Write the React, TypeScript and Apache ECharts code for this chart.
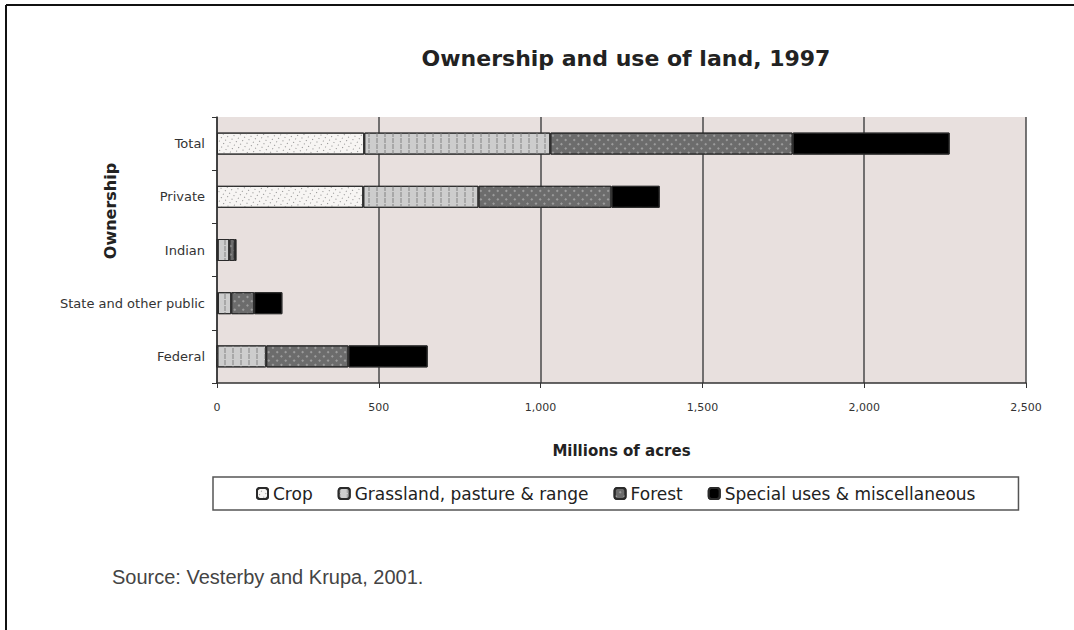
import React, { useEffect, useRef } from "react";
import * as echarts from "echarts";

// Ownership categories, bottom to top on the axis
const ownership = ["Federal", "State and other public", "Indian", "Private", "Total"];

// Millions of acres by land use, in the same order as `ownership`
const crop = [1, 3, 2, 452, 455];
const grassland = [151, 41, 36, 356, 575];
const forest = [254, 71, 17, 411, 749];
const special = [245, 87, 5, 149, 485];

const xTicks = [0, 500, 1000, 1500, 2000, 2500];

const seriesNames = [
  "Crop",
  "Grassland, pasture & range",
  "Forest",
  "Special uses & miscellaneous",
];

export default function App() {
  const ref = useRef<HTMLDivElement>(null);

  useEffect(() => {
    if (!ref.current) return;
    const chart = echarts.init(ref.current, undefined, { renderer: "svg" });

    const border = { borderColor: "#2a2a2a", borderWidth: 1 };

    chart.setOption({
      animation: false,
      backgroundColor: "#ffffff",
      aria: { enabled: true, decal: { show: true } },
      title: {
        text: "Ownership and use of land, 1997",
        left: 621,
        top: 42,
        textAlign: "center",
        textStyle: {
          fontFamily: "DejaVu Sans",
          fontSize: 22,
          fontWeight: "bold",
          color: "#222",
        },
      },
      grid: { left: 217, right: 48, top: 117, bottom: 247, show: true, backgroundColor: "#e8e0de", borderWidth: 0 },
      legend: {
        left: 213,
        top: 477,
        itemWidth: 11,
        itemHeight: 11,
        itemGap: 25,
        padding: [8, 43, 8, 43],
        borderColor: "#555",
        borderWidth: 1.5,
        backgroundColor: "#fff",
        data: seriesNames,
        textStyle: { fontFamily: "DejaVu Sans", fontSize: 17, color: "#222" },
      },
      xAxis: {
        type: "value",
        min: xTicks[0],
        max: xTicks[xTicks.length - 1],
        interval: 500,
        name: "Millions of acres",
        nameLocation: "middle",
        nameGap: 60,
        nameMoveOverlap: false,
        nameTextStyle: { fontFamily: "DejaVu Sans", fontSize: 15, fontWeight: "bold", color: "#222" },
        axisLine: { show: true, lineStyle: { color: "#333", width: 1.5 } },
        axisTick: { show: true, length: 5, lineStyle: { color: "#333" } },
        axisLabel: {
          margin: 19,
          fontFamily: "DejaVu Sans",
          fontSize: 11,
          color: "#333",
          formatter: (v: number) => v.toLocaleString("en-US"),
        },
        splitLine: { show: true, lineStyle: { color: "#4a4a4a", width: 1.5 } },
      },
      yAxis: {
        type: "category",
        data: ownership,
        axisLine: { show: true, lineStyle: { color: "#333", width: 1.5 } },
        axisTick: { show: true, length: 5, lineStyle: { color: "#333" } },
        axisLabel: { margin: 12, fontFamily: "DejaVu Sans", fontSize: 13, color: "#333" },
      },
      series: [
        {
          name: seriesNames[0],
          type: "bar",
          stack: "land",
          barWidth: 22,
          data: crop,
          itemStyle: {
            color: "#f7f5f3",
            ...border,
            decal: { symbol: "rect", symbolSize: 1, color: "#8c8c8c", dashArrayX: [1, 4], dashArrayY: [1, 3] },
          },
        },
        {
          name: seriesNames[1],
          type: "bar",
          stack: "land",
          data: grassland,
          itemStyle: {
            color: "#cdcdcd",
            ...border,
            decal: { symbol: "rect", symbolSize: 1, color: "#a8a8a8", dashArrayX: [2, 6], dashArrayY: [5, 1] },
          },
        },
        {
          name: seriesNames[2],
          type: "bar",
          stack: "land",
          data: forest,
          itemStyle: {
            color: "#6c6c6c",
            ...border,
            decal: { symbol: "rect", symbolSize: 1, color: "#9c9c9c", dashArrayX: [2, 4], dashArrayY: [2, 4] },
          },
        },
        {
          name: seriesNames[3],
          type: "bar",
          stack: "land",
          data: special,
          itemStyle: { color: "#000000", ...border, decal: "none" },
        },
      ],
      graphic: [
        { type: "line", shape: { x1: 6, y1: 5, x2: 1074, y2: 5 }, style: { stroke: "#111", lineWidth: 2 } },
        { type: "line", shape: { x1: 6, y1: 5, x2: 6, y2: 630 }, style: { stroke: "#111", lineWidth: 2 } },
        {
          type: "text",
          x: 110,
          y: 211,
          rotation: Math.PI / 2,
          style: {
            text: "Ownership",
            fontFamily: "DejaVu Sans",
            fontSize: 16,
            fontWeight: "bold",
            fill: "#222",
            align: "center",
            verticalAlign: "middle",
          },
        },
        {
          type: "text",
          left: 112,
          top: 567,
          style: {
            text: "Source: Vesterby and Krupa, 2001.",
            fontFamily: "Liberation Sans",
            fontSize: 20,
            fill: "#444",
          },
        },
      ],
    });

    return () => chart.dispose();
  }, []);

  return <div ref={ref} style={{ width: 1074, height: 630, position: "absolute", left: 0, top: 0 }} />;
}
